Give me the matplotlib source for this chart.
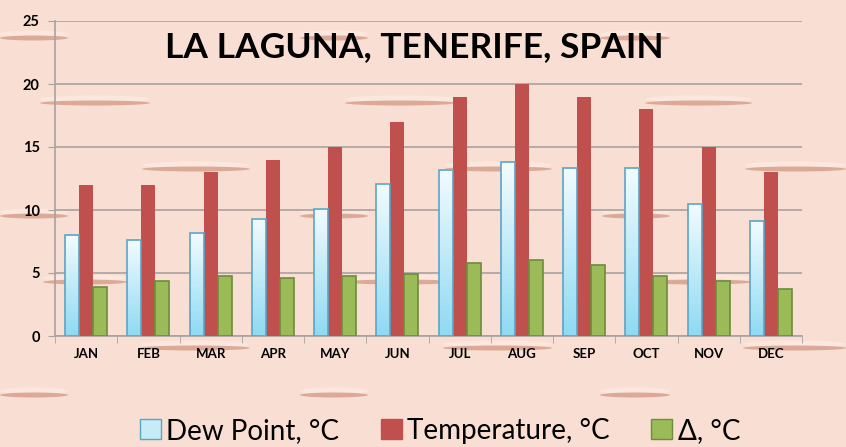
#!/usr/bin/env python3
# -*- coding: utf-8 -*-
#import libraries
import numpy as np
import matplotlib.pyplot as plt
from matplotlib.patches import Ellipse, Patch
from matplotlib.colors import LinearSegmentedColormap

# monthly data
months = ['JAN', 'FEB', 'MAR', 'APR', 'MAY', 'JUN',
          'JUL', 'AUG', 'SEP', 'OCT', 'NOV', 'DEC']
dew_point = [8.0, 7.6, 8.2, 9.3, 10.1, 12.1, 13.2, 13.8, 13.3, 13.3, 10.5, 9.1]
temperature = [12, 12, 13, 14, 15, 17, 19, 20, 19, 18, 15, 13]
delta = [3.9, 4.4, 4.8, 4.6, 4.8, 4.9, 5.8, 6.0, 5.6, 4.8, 4.4, 3.7]
y_ticks = [0, 5, 10, 15, 20, 25]

# colours
bg_color = '#f9dfd3'
red = '#c0504d'
green = '#9bbb59'
green_edge = '#6f8b3b'
blue_edge = '#5aa5c6'
blue_cmap = LinearSegmentedColormap.from_list('dew', ['#8fdaf3', '#f2fbfe'])
grid_color = '#a8a29f'

plt.rcParams['font.family'] = ['Lato', 'DejaVu Sans']

fig = plt.figure(figsize=(8.46, 4.47), dpi=100)
fig.patch.set_facecolor(bg_color)

# background layer with the brush strokes (pixel coordinates)
bg = fig.add_axes([0, 0, 1, 1], zorder=-1)
bg.set_xlim(0, 846)
bg.set_ylim(447, 0)
bg.axis('off')
strokes = [(0, 68, 38), (300, 368, 38), (600, 670, 38),
           (40, 150, 103), (345, 455, 103), (645, 752, 103),
           (142, 250, 169), (445, 552, 169), (745, 846, 169),
           (0, 68, 216), (300, 368, 216), (602, 670, 216),
           (43, 127, 282), (345, 455, 282), (645, 752, 282),
           (140, 250, 348), (443, 552, 348), (743, 846, 348),
           (0, 68, 395), (300, 368, 395), (600, 670, 395)]
for x1, x2, y in strokes:
    # faint light halo then the brown stroke
    bg.add_patch(Ellipse(((x1 + x2) / 2, y - 4), x2 - x1, 7,
                         color='#fff4ee', alpha=0.4, lw=0))
    bg.add_patch(Ellipse(((x1 + x2) / 2, y), x2 - x1, 5,
                         color='#d6a08c', alpha=0.85, lw=0))

# main chart axes
ax = fig.add_axes([55 / 846, 111 / 447, 747 / 846, 315 / 447])
ax.set_facecolor('none')
x = np.arange(len(months))
w = 0.225

# dew point bars with vertical gradient
dew_bars = ax.bar(x - w, dew_point, w, facecolor='none',
                  edgecolor=blue_edge, linewidth=1.2, zorder=4)
grad = np.linspace(0, 1, 100).reshape(-1, 1)
for b in dew_bars:
    x0 = b.get_x()
    h = b.get_height()
    ax.imshow(grad, extent=[x0, x0 + w, 0, h], origin='lower',
              aspect='auto', cmap=blue_cmap, zorder=3)

ax.bar(x, temperature, w, color=red, zorder=3)
ax.bar(x + w, delta, w, color=green, edgecolor=green_edge,
       linewidth=1.2, zorder=3)

ax.set_xlim(-0.5, 11.5)
ax.set_ylim(0, 25)

# gridlines and axes
ax.set_yticks(y_ticks)
ax.set_yticklabels([str(t) for t in y_ticks], fontsize=10.5, fontweight='bold')
ax.yaxis.grid(True, color=grid_color, linewidth=1.2, zorder=0)
ax.set_axisbelow(True)
ax.set_xticks(x)
ax.set_xticklabels(months, fontsize=9.5, fontweight='bold')
ax.set_xticks(np.arange(-0.5, 12, 1), minor=True)
ax.tick_params(axis='x', which='major', length=0, pad=9)
ax.tick_params(axis='x', which='minor', length=5, color=grid_color,
               direction='out')
ax.tick_params(axis='y', length=5, color=grid_color, pad=6)
for s in ['top', 'right']:
    ax.spines[s].set_visible(False)
ax.spines['left'].set_color(grid_color)
ax.spines['bottom'].set_color(grid_color)
ax.spines['left'].set_linewidth(1.2)
ax.spines['bottom'].set_linewidth(1.2)

# title inside the plot
fig.text(414 / 846, 1 - 47 / 447, 'LA LAGUNA, TENERIFE, SPAIN',
         ha='center', va='center', fontsize=25.5, fontweight='bold')

# legend at the bottom
handles = [Patch(facecolor='#c6ecf8', edgecolor=blue_edge, linewidth=1),
           Patch(facecolor=red, edgecolor=red),
           Patch(facecolor=green, edgecolor=green_edge, linewidth=1)]
labels = ['Dew Point, °C', 'Temperature, °C', 'Δ, °C']
fig.legend(handles, labels, loc='center', bbox_to_anchor=(440 / 846, 1 - 431 / 447),
           ncol=3, frameon=False, fontsize=20, handlelength=0.75,
           handleheight=0.75, handletextpad=0.2, columnspacing=1.5)

plt.savefig('out.png', dpi=100, facecolor=bg_color)
